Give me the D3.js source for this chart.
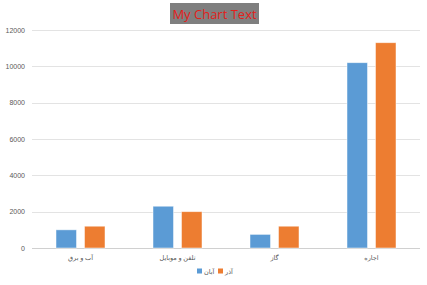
<!DOCTYPE html>
<html>
<head>
<meta charset="utf-8">
<script src="https://cdn.jsdelivr.net/npm/d3@7"></script>
<style>
  body { margin: 0; background: #fff; }
  #chart { width: 427px; height: 285px; }
</style>
</head>
<body>
<div id="chart"></div>
<script>
var categories = ['آب و برق', 'تلفن و موبایل', 'گاز', 'اجاره'];
var seriesNames = ['آبان', 'آذر'];
var abanValues = [1000, 2300, 750, 10200];
var azarValues = [1200, 2000, 1200, 11300];
var yTicks = [0, 2000, 4000, 6000, 8000, 10000, 12000];
var colors = ['#5B9BD5', '#ED7D31'];

var svgWidth = 427, svgHeight = 285;
var svg = d3.select('#chart').append('svg')
    .attr('width', svgWidth)
    .attr('height', svgHeight);

var margin = {top: 30, right: 7, bottom: 37, left: 32};
var w = svgWidth - margin.left - margin.right;
var h = svgHeight - margin.top - margin.bottom;
var g = svg.append('g').attr('transform', 'translate(' + margin.left + ',' + margin.top + ')');

// title box
var title = svg.append('g');
title.append('rect')
    .attr('x', 170).attr('y', 3).attr('width', 89).attr('height', 21)
    .attr('fill', '#7f7f7f');
title.append('text')
    .attr('x', 214.5).attr('y', 18.5)
    .attr('text-anchor', 'middle')
    .style('font-family', 'Open Sans, Liberation Sans, sans-serif')
    .style('font-size', '13px')
    .style('fill', '#e3201b')
    .text('My Chart Text');

var x0 = d3.scaleBand().domain(categories).range([0, w]);
var x1 = d3.scaleBand().domain(seriesNames).range([24, x0.bandwidth() - 24]).paddingInner(0.28);
var y = d3.scaleLinear().domain([0, 12000]).range([h, 0]);

// gridlines
g.selectAll('.grid').data(yTicks).enter().append('line')
    .attr('x1', 0).attr('x2', w)
    .attr('y1', function(d){ return Math.round(y(d)) + 0.5; })
    .attr('y2', function(d){ return Math.round(y(d)) + 0.5; })
    .style('stroke', function(d){ return d === 0 ? '#d0d0d0' : '#e3e3e3'; })
    .style('stroke-width', 1);

// y labels
var yAxis = d3.axisLeft(y).tickValues(yTicks).tickSize(0).tickPadding(7).tickFormat(d3.format('d'));
var gy = g.append('g').call(yAxis);
gy.select('.domain').remove();
gy.selectAll('text')
    .style('font-family', 'Liberation Sans, Arial, sans-serif')
    .style('font-size', '7px')
    .style('fill', '#595959');

// x labels
var xAxis = d3.axisBottom(x0).tickSize(0).tickPadding(7);
var gx = g.append('g').attr('transform', 'translate(0,' + h + ')').call(xAxis);
gx.select('.domain').remove();
gx.selectAll('text')
    .style('font-family', 'Noto Sans, DejaVu Sans, sans-serif')
    .style('font-size', '6.5px')
    .style('fill', '#595959');

var data = categories.map(function(c, i){
    return {cat: c, vals: [abanValues[i], azarValues[i]]};
});

var groups = g.selectAll('.cat').data(data).enter().append('g')
    .attr('transform', function(d){ return 'translate(' + x0(d.cat) + ',0)'; });

groups.selectAll('rect')
    .data(function(d){ return d.vals.map(function(v, j){ return {name: seriesNames[j], v: v, j: j}; }); })
    .enter().append('rect')
    .attr('x', function(d){ return x1(d.name); })
    .attr('y', function(d){ return y(d.v); })
    .attr('width', x1.bandwidth())
    .attr('height', function(d){ return h - y(d.v); })
    .attr('fill', function(d){ return colors[d.j]; })
    .style('stroke', '#ffffff')
    .style('stroke-opacity', 0.6)
    .style('stroke-width', 0.8);

// legend
var legend = svg.append('g').attr('transform', 'translate(0,272)');
var legItems = [
    {name: seriesNames[0], color: colors[0], x: 197},
    {name: seriesNames[1], color: colors[1], x: 218}
];
legItems.forEach(function(d){
    legend.append('rect')
        .attr('x', d.x).attr('y', -3.5).attr('width', 5).attr('height', 5)
        .attr('fill', d.color);
    legend.append('text')
        .attr('x', d.x + 7).attr('y', 2)
        .style('font-family', 'Noto Sans, DejaVu Sans, sans-serif')
        .style('font-size', '6.5px')
        .style('fill', '#595959')
        .text(d.name);
});
</script>
</body>
</html>
